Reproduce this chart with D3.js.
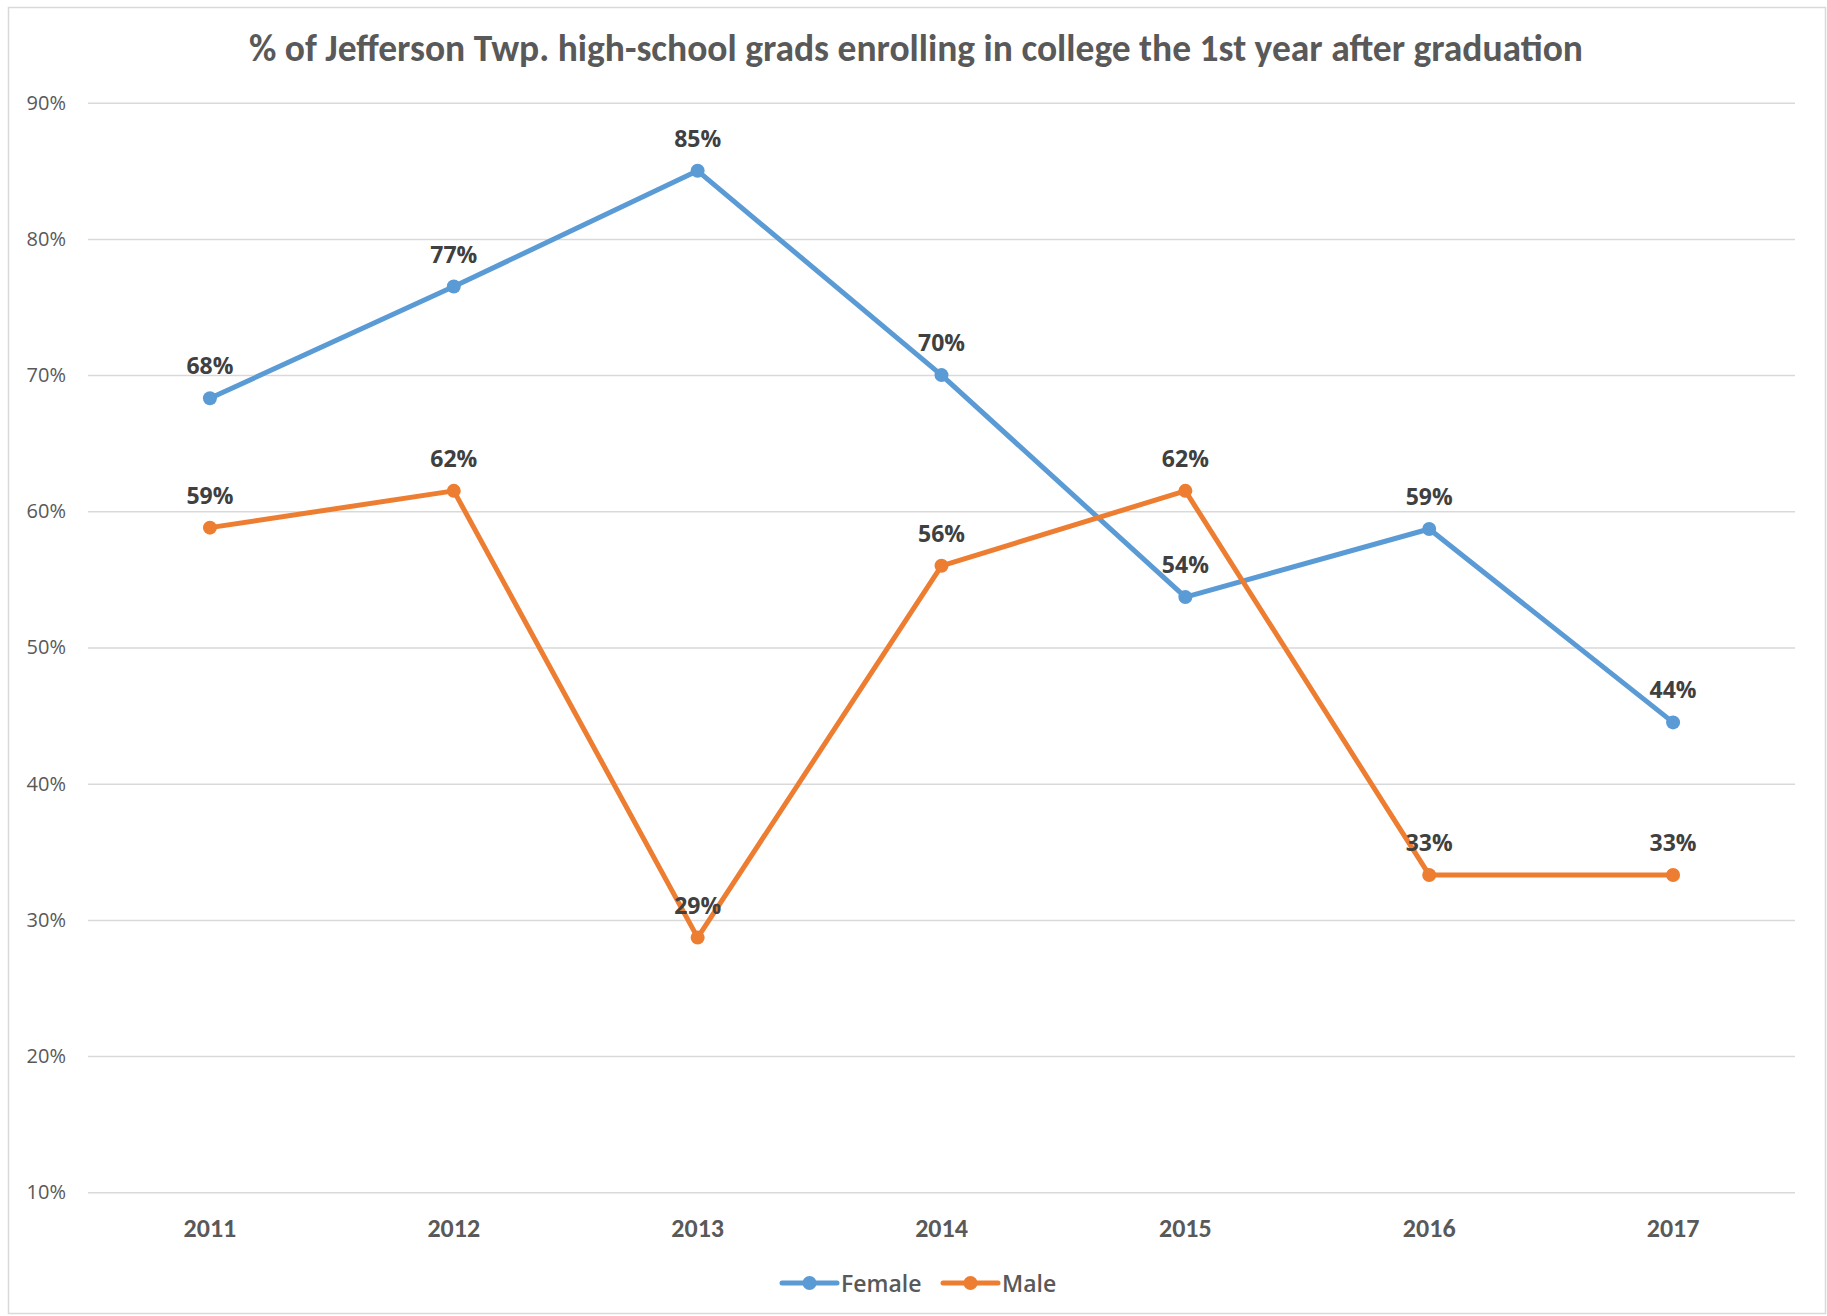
<!DOCTYPE html>
<html>
<head>
<meta charset="utf-8">
<script src="https://cdn.jsdelivr.net/npm/d3@7"></script>
<style>
  html, body { margin: 0; padding: 0; background: #fff; }
  svg { display: block; }
</style>
</head>
<body>
<script>
const years = ["2011", "2012", "2013", "2014", "2015", "2016", "2017"];
const female = [68.3, 76.5, 85.0, 70.0, 53.7, 58.7, 44.5];
const male = [58.8, 61.5, 28.7, 56.0, 61.5, 33.3, 33.3];
const femaleLabels = ["68%", "77%", "85%", "70%", "54%", "59%", "44%"];
const maleLabels = ["59%", "62%", "29%", "56%", "62%", "33%", "33%"];
const yTicks = [10, 20, 30, 40, 50, 60, 70, 80, 90];
const seriesNames = ["Female", "Male"];
const seriesColors = ["#5B9BD5", "#ED7D31"];
const titleText = "% of Jefferson Twp. high-school grads enrolling in college the 1st year after graduation";

const W = 1827, H = 1316;
const narrow = "Carlito, Calibri, 'Liberation Sans Narrow', 'DejaVu Sans Condensed', 'Open Sans', sans-serif";
const wide = "'Open Sans', 'Segoe UI', sans-serif";

const svg = d3.select("body").append("svg").attr("width", W).attr("height", H);

svg.append("rect").attr("x", 8.5).attr("y", 7.5).attr("width", W - 10).attr("height", H - 10)
  .attr("fill", "#fff").attr("stroke", "#d9d9d9").attr("stroke-width", 1.5);

const pLeft = 88, pRight = 1795, pTop = 102.7, pBottom = 1192.3;

const x = d3.scaleBand().domain(years).range([pLeft, pRight]);
const y = d3.scaleLinear().domain([10, 90]).range([pBottom, pTop]);

// gridlines
const yAxis = d3.axisLeft(y).tickValues(yTicks).tickSize(-(pRight - pLeft)).tickFormat(d => d + "%").tickPadding(22);
const gy = svg.append("g").attr("transform", `translate(${pLeft},0)`).call(yAxis);
gy.select(".domain").remove();
gy.selectAll(".tick line").attr("stroke", "#d9d9d9").attr("stroke-width", 1.5);
gy.selectAll(".tick text").attr("fill", "#595959").attr("font-family", wide).attr("font-size", 20);

// x axis labels
const xAxis = d3.axisBottom(x).tickSize(0).tickPadding(0);
const gx = svg.append("g").attr("transform", `translate(0,${pBottom})`).call(xAxis);
gx.select(".domain").remove();
gx.selectAll(".tick text").attr("fill", "#595959").attr("font-family", narrow)
  .attr("font-weight", "bold").attr("font-size", 26).attr("dy", null).attr("y", 45);

// title
svg.append("text").attr("x", 916).attr("y", 61).attr("text-anchor", "middle")
  .attr("font-family", narrow).attr("font-weight", "bold").attr("font-size", 37.5)
  .attr("fill", "#595959").text(titleText);

const cx = d => x(d) + x.bandwidth() / 2;
const line = d3.line().x((d, i) => cx(years[i])).y(d => y(d));

const series = [
  { name: seriesNames[0], values: female, labels: femaleLabels, color: seriesColors[0] },
  { name: seriesNames[1], values: male, labels: maleLabels, color: seriesColors[1] }
];

series.forEach(s => {
  svg.append("path").datum(s.values).attr("d", line).attr("fill", "none")
    .attr("stroke", s.color).attr("stroke-width", 5).attr("stroke-linejoin", "round").attr("stroke-linecap", "round");
  svg.append("g").selectAll("circle").data(s.values).join("circle")
    .attr("cx", (d, i) => cx(years[i])).attr("cy", d => y(d)).attr("r", 7).attr("fill", s.color);
});

series.forEach(s => {
  svg.append("g").selectAll("text").data(s.values).join("text")
    .attr("x", (d, i) => cx(years[i])).attr("y", d => y(d) - 24)
    .attr("text-anchor", "middle").attr("font-family", wide).attr("font-weight", "bold")
    .attr("font-size", 23).attr("fill", "#404040").text((d, i) => s.labels[i]);
});

// legend
const legendItems = [
  { x0: 782, name: seriesNames[0], color: seriesColors[0] },
  { x0: 943, name: seriesNames[1], color: seriesColors[1] }
];
const ly = 1283;
legendItems.forEach(it => {
  svg.append("line").attr("x1", it.x0).attr("x2", it.x0 + 55).attr("y1", ly).attr("y2", ly)
    .attr("stroke", it.color).attr("stroke-width", 5).attr("stroke-linecap", "round");
  svg.append("circle").attr("cx", it.x0 + 27.5).attr("cy", ly).attr("r", 7).attr("fill", it.color);
  svg.append("text").attr("x", it.x0 + 59).attr("y", ly + 8.5).attr("font-family", wide)
    .attr("font-weight", 600).attr("font-size", 23).attr("fill", "#595959").text(it.name);
});
</script>
</body>
</html>
